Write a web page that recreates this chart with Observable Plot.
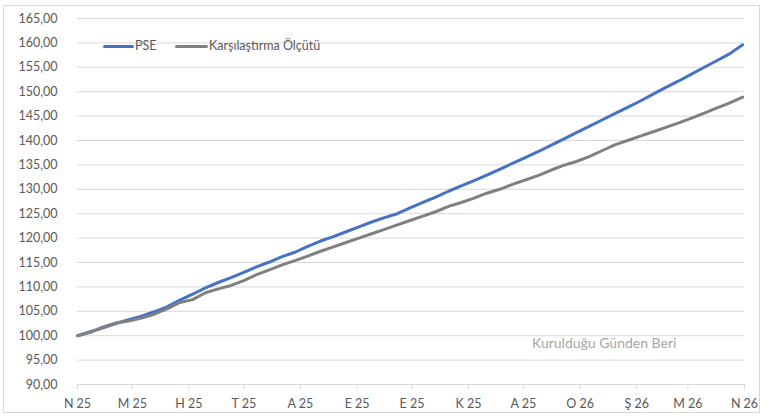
<!DOCTYPE html>
<html>
<head>
<meta charset="utf-8">
<script src="https://cdn.jsdelivr.net/npm/d3@7"></script>
<script src="https://cdn.jsdelivr.net/npm/@observablehq/plot@0.6"></script>
<style>
  html, body { margin: 0; padding: 0; background: #ffffff; }
  #wrap { position: relative; width: 771px; height: 417px; overflow: hidden; font-family: Lato, "Open Sans", sans-serif; }
  #border { position: absolute; left: 3px; top: 5px; width: 757px; height: 408px; border: 1px solid #d9d9d9; box-sizing: border-box; }
  .sw { position: absolute; height: 3px; border-radius: 2px; }
  .lt { position: absolute; font-size: 12.5px; color: #595959; line-height: 16px; white-space: nowrap; }
  #note { position: absolute; left: 532px; top: 334px; font-size: 14px; color: #a6a6a6; line-height: 18px; white-space: nowrap; }
  svg { position: absolute; left: 0; top: 0; }
</style>
</head>
<body>
<div id="wrap">
  <div id="border"></div>
  <div id="chart"></div>
  <div class="sw" style="left:103px; top:45px; width:31px; background:#4472C4"></div>
  <div class="lt" style="left:135px; top:38px;">PSE</div>
  <div class="sw" style="left:175px; top:45px; width:33px; background:#808080"></div>
  <div class="lt" style="left:209px; top:38px;">Karşılaştırma Ölçütü</div>
  <div id="note">Kurulduğu Günden Beri</div>
</div>
<script>
// Series names
const seriesNames = ["PSE", "Karşılaştırma Ölçütü"];
// Weekly values starting 1 April 2025
const pseValues = [
  100.0, 100.8, 101.6, 102.5, 103.3, 104.0, 104.9, 105.9, 107.3, 108.5,
  109.8, 110.9, 111.9, 113.0, 114.1, 115.1, 116.2, 117.1, 118.3, 119.4,
  120.3, 121.3, 122.3, 123.3, 124.2, 125.0, 126.2, 127.3, 128.4, 129.6,
  130.7, 131.8, 132.9, 134.1, 135.3, 136.5, 137.7, 139.0, 140.3, 141.6,
  142.9, 144.2, 145.5, 146.8, 148.1, 149.5, 150.9, 152.2, 153.6, 155.0,
  156.4, 157.8, 159.6
];
const benchmarkValues = [
  100.0, 100.7, 101.8, 102.6, 103.0, 103.6, 104.4, 105.5, 106.8, 107.4,
  108.8, 109.6, 110.3, 111.3, 112.5, 113.5, 114.5, 115.4, 116.3, 117.3,
  118.2, 119.1, 120.0, 120.9, 121.8, 122.7, 123.6, 124.5, 125.4, 126.5,
  127.3, 128.2, 129.2, 130.0, 131.0, 131.9, 132.8, 133.9, 134.9, 135.7,
  136.7, 137.9, 139.1, 140.0, 140.9, 141.8, 142.7, 143.6, 144.6, 145.6,
  146.7, 147.7, 148.9
];
// x-axis tick labels (monthly)
const tickLabels = ["N 25","M 25","H 25","T 25","A 25","E 25","E 25","K 25","A 25","O 26","Ş 26","M 26","N 26"];
// y-axis ticks
const yTicks = [90,95,100,105,110,115,120,125,130,135,140,145,150,155,160,165];

const DAY = 864e5;
const start = Date.UTC(2025, 3, 1);
const monthTicks = tickLabels.map((_, i) => new Date(Date.UTC(2025, 3 + i, 1)));
const rows = [];
pseValues.forEach((v, i) => rows.push({date: new Date(start + i * 7 * DAY), value: v, series: seriesNames[0]}));
benchmarkValues.forEach((v, i) => rows.push({date: new Date(start + i * 7 * DAY), value: v, series: seriesNames[1]}));

const fmt = d => d3.format(".2f")(d).replace(".", ",");

const chart = Plot.plot({
  width: 771,
  height: 417,
  marginLeft: 77,
  marginRight: 27,
  marginTop: 18,
  marginBottom: 33,
  style: {fontFamily: "Lato, 'Open Sans', sans-serif", fontSize: "12.5px", color: "#595959", background: "transparent", overflow: "visible"},
  x: {type: "utc", domain: [monthTicks[0], monthTicks[monthTicks.length - 1]]},
  y: {domain: [90, 165]},
  color: {domain: seriesNames, range: ["#4472C4", "#808080"]},
  marks: [
    Plot.gridY(yTicks, {stroke: "#d9d9d9", strokeOpacity: 1, strokeWidth: 1}),
    Plot.axisY(yTicks, {tickSize: 0, tickPadding: 20, tickFormat: fmt, label: null, fill: "#595959"}),
    Plot.ruleY([90], {stroke: "#d9d9d9", strokeWidth: 1}),
    Plot.axisX(monthTicks, {tickSize: 5, tickPadding: 10, stroke: "#d9d9d9", fill: "#595959", tickFormat: (d, i) => tickLabels[i], label: null}),
    Plot.line(rows, {x: "date", y: "value", z: "series", stroke: "series", strokeWidth: 3, strokeLinecap: "round", strokeLinejoin: "round"})
  ]
});
document.getElementById("chart").appendChild(chart);
</script>
</body>
</html>
